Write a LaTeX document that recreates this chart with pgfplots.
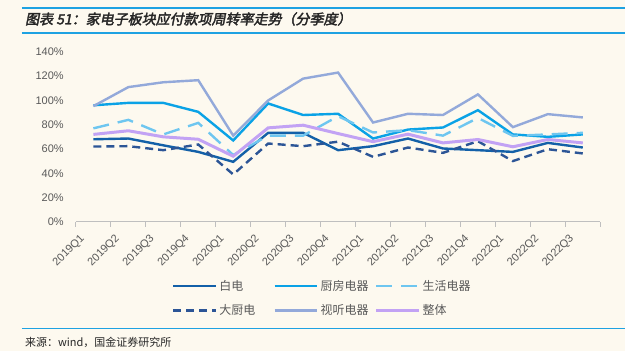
\documentclass[border=0pt]{standalone}
\usepackage{fontspec}
\setmainfont{Liberation Sans}
\newfontfamily\cjk{Noto Sans CJK SC}
\newfontfamily\cjkt[FakeBold=2.5,FakeSlant=0.2]{Noto Sans CJK SC}
\usepackage{pgfplots}
\pgfplotsset{compat=1.18}
\definecolor{bg}{HTML}{FDF9EF}
\definecolor{hdr}{HTML}{1EA2E2}
\definecolor{cBai}{HTML}{1360A8}
\definecolor{cChu}{HTML}{0AA2E6}
\definecolor{cSheng}{HTML}{6EC6F0}
\definecolor{cDa}{HTML}{2C5596}
\definecolor{cShi}{HTML}{93A9DA}
\definecolor{cZheng}{HTML}{C2A2F4}
\definecolor{txt}{HTML}{595959}
\definecolor{axl}{HTML}{BFBFBF}
\begin{document}
\begin{tikzpicture}[x=1pt,y=1pt]
\fill[bg] (0,0) rectangle (626,351);
\draw[hdr, line width=1.5pt] (22,343) -- (626,343);
\draw[hdr, line width=1.5pt] (22,318) -- (626,318);
\node[anchor=west, inner sep=0pt, font=\fontsize{14}{16}\selectfont\cjkt, text=black!85] at (25,332) {图表 51：家电子板块应付款项周转率走势（分季度）};
\draw[hdr, line width=1.2pt] (22,22) -- (626,22);
\node[anchor=west, inner sep=0pt, font=\fontsize{11}{13}\selectfont\cjk, text=black!85] at (25,8) {来源：wind，国金证券研究所};
\begin{axis}[
  at={(76pt,129pt)}, anchor=south west,
  scale only axis, width=525pt, height=170pt,
  xmin=-0.5, xmax=14.5, ymin=0, ymax=140,
  axis y line=none, axis x line*=bottom,
  axis line style={axl, line width=1.2pt},
  x axis line style={-},
  xtick={0,...,14},
  xticklabels={2019Q1,2019Q2,2019Q3,2019Q4,2020Q1,2020Q2,2020Q3,2020Q4,2021Q1,2021Q2,2021Q3,2021Q4,2022Q1,2022Q2,2022Q3},
  major x tick style={draw=none},
  minor xtick={-0.5,0.5,...,14.5},
  minor x tick style={axl, line width=1pt},
  minor tick length=5pt,
  tick align=outside,
  xticklabel style={font=\fontsize{11}{12}\selectfont, text=txt, rotate=45, anchor=east, xshift=-15pt, inner sep=0pt},
  ytick=\empty,
  /pgf/number format/assume math mode=true,
  legend columns=3,
  legend style={at={(0.183,-0.33)}, anchor=north west, draw=none, fill=none,
     font=\fontsize{12}{14}\selectfont\cjk, text=txt,
     /tikz/every even column/.append style={column sep=0pt},
     row sep=9pt, inner sep=0pt},
  legend cell align=left,
  legend image code/.code={\draw[#1] (0pt,0pt) -- (43pt,0pt);},
  clip=false,
]
\addplot[cBai, line width=2.4pt] coordinates {(0,68) (1,68.6) (2,63) (3,57.6) (4,49.4) (5,73.3) (6,73.3) (7,59) (8,62.3) (9,68.6) (10,60.4) (11,59) (12,57.6) (13,65) (14,61.2)};
\addlegendentry{\makebox[52pt][l]{白电}}
\addplot[cChu, line width=2.4pt] coordinates {(0,96) (1,98) (2,98) (3,90.6) (4,67) (5,97.5) (6,88) (7,89) (8,68.6) (9,76) (10,77.7) (11,92) (12,72) (13,70) (14,72)};
\addlegendentry{\makebox[52pt][l]{厨房电器}}
\addplot[cSheng, line width=2.4pt, dash pattern=on 16pt off 9pt] coordinates {(0,77) (1,84) (2,72) (3,81.5) (4,55) (5,71) (6,71) (7,87) (8,73.6) (9,75.5) (10,71) (11,85.6) (12,70.8) (13,72) (14,73.3)};
\addlegendentry{\makebox[52pt][l]{生活电器}}
\addplot[cDa, line width=2.4pt, dash pattern=on 8pt off 5pt] coordinates {(0,62) (1,62.3) (2,59) (3,63.7) (4,39) (5,64.5) (6,62.3) (7,66) (8,53.5) (9,61.2) (10,56.8) (11,66.4) (12,50) (13,59.8) (14,56.3)};
\addlegendentry{\makebox[52pt][l]{大厨电}}
\addplot[cShi, line width=2.4pt] coordinates {(0,95.3) (1,111) (2,115) (3,116.7) (4,71) (5,100) (6,118) (7,123) (8,81.8) (9,89) (10,88) (11,105) (12,78) (13,88.7) (14,86)};
\addlegendentry{\makebox[52pt][l]{视听电器}}
\addplot[cZheng, line width=3pt] coordinates {(0,72) (1,75) (2,70) (3,68) (4,54) (5,77.4) (6,79.6) (7,72.7) (8,66) (9,72.2) (10,65) (11,67.8) (12,61.8) (13,67.8) (14,65)};
\addlegendentry{\makebox[52pt][l]{整体}}
\pgfplotsinvokeforeach{0,20,...,140}{
  \node[anchor=east, inner sep=0pt, font=\fontsize{11}{12}\selectfont, text=txt] at (axis cs:-0.5,#1) [xshift=-12pt] {#1\%};
}
\end{axis}
\end{tikzpicture}
\end{document}
